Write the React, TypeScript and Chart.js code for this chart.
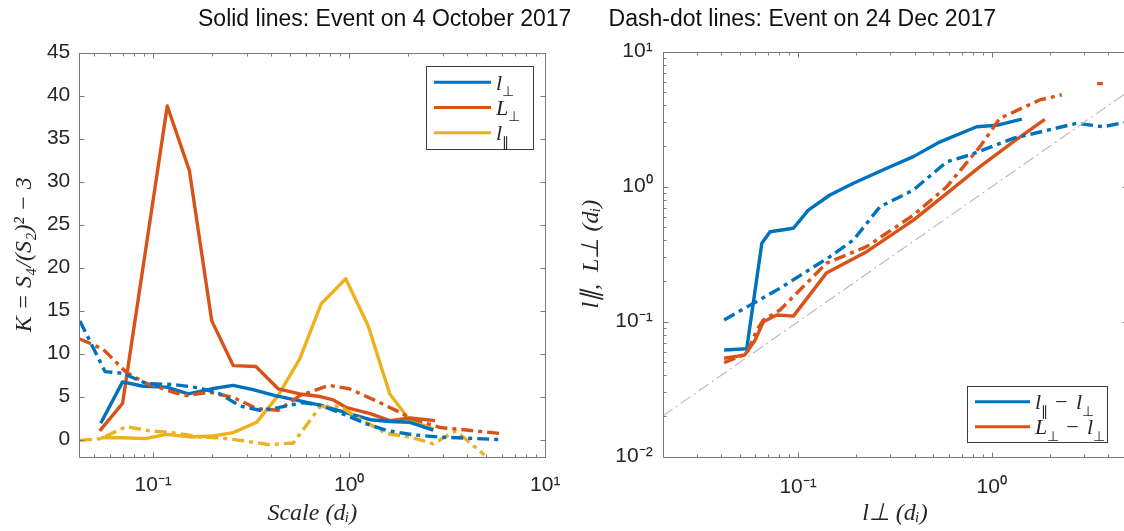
import React, { useEffect, useRef } from 'react';
import { Chart, registerables } from 'chart.js';

Chart.register(...registerables);

// ---------------- Left panel: K = S4/(S2)^2 - 3 versus scale ----------------
// Solid lines: event on 4 October 2017
const perpScaleOct = [0.054, 0.0698, 0.0889, 0.117, 0.151, 0.199, 0.256, 0.323, 0.419, 0.56, 0.71, 0.97, 1.28, 1.61, 2.04, 2.68];
const perpKOct = [1.9, 6.7, 6.2, 6.1, 5.3, 5.9, 6.3, 5.8, 5.1, 4.5, 4.0, 3.1, 2.3, 2.1, 2.0, 1.1];
const bigPerpScaleOct = [0.0534, 0.0698, 0.118, 0.153, 0.199, 0.256, 0.334, 0.434, 0.56, 0.71, 0.83, 0.97, 1.28, 1.61, 2.04, 2.74];
const bigPerpKOct = [1.0, 4.2, 38.8, 31.3, 13.8, 8.6, 8.5, 5.9, 5.3, 5.0, 4.6, 3.7, 3.0, 2.2, 2.5, 2.2];
const parScaleOct = [0.054, 0.07, 0.091, 0.117, 0.154, 0.199, 0.256, 0.337, 0.434, 0.56, 0.72, 0.96, 1.25, 1.61, 2.04, 2.7];
const parKOct = [0.2, 0.2, 0.1, 0.6, 0.3, 0.4, 0.8, 2.0, 5.1, 9.4, 15.8, 18.7, 13.2, 5.3, 2.2, 1.2];
// Dash-dot lines: event on 24 Dec 2017
const perpScaleDec = [0.0423, 0.0568, 0.07, 0.0925, 0.126, 0.173, 0.219, 0.277, 0.35, 0.434, 0.58, 0.71, 0.97, 1.23, 1.55, 2.11, 2.9, 3.97, 6.1];
const perpKDec = [13.8, 7.9, 7.7, 6.5, 6.4, 6.0, 5.3, 3.9, 3.4, 3.7, 4.3, 4.0, 2.8, 1.8, 1.05, 0.55, 0.28, 0.16, -0.03];
const bigPerpScaleDec = [0.0423, 0.0556, 0.073, 0.091, 0.126, 0.148, 0.195, 0.256, 0.337, 0.434, 0.56, 0.79, 1.0, 1.37, 1.8, 2.04, 2.9, 3.97, 6.1];
const bigPerpKDec = [11.7, 10.5, 7.8, 6.6, 5.5, 5.1, 5.5, 4.9, 3.6, 3.4, 5.1, 6.3, 5.9, 4.5, 3.2, 2.5, 1.4, 1.1, 0.66];
const parScaleDec = [0.0423, 0.054, 0.073, 0.096, 0.126, 0.173, 0.219, 0.3, 0.39, 0.518, 0.71, 0.89, 1.13, 1.55, 2.04, 2.68, 3.5, 4.9];
const parKDec = [-0.1, 0.1, 1.5, 1.0, 0.8, 0.3, 0.2, -0.2, -0.6, -0.4, 3.8, 3.9, 2.4, 0.7, 0.3, -0.5, 1.0, -1.8];

const leftYTickValues = [0, 5, 10, 15, 20, 25, 30, 35, 40, 45];
const leftXTickValues = [0.1, 1, 10];
const leftXTickLabels = ['10⁻¹', '10⁰', '10¹'];
const leftLegendLabels = ['l⊥', 'L⊥', 'l∥'];

// ---------------- Right panel: l_par, L_perp versus l_perp ----------------
const lPerpAOct = [0.0415, 0.0543, 0.065, 0.0717, 0.0946, 0.113, 0.146, 0.193, 0.287, 0.394, 0.541, 0.837, 1.06, 1.43];
const lParOct = [0.0617, 0.063, 0.381, 0.464, 0.492, 0.671, 0.868, 1.06, 1.37, 1.67, 2.15, 2.78, 2.85, 3.17];
const lPerpBOct = [0.0415, 0.053, 0.06, 0.0662, 0.0776, 0.0946, 0.14, 0.226, 0.394, 0.586, 0.87, 1.29, 1.88];
const bigLPerpOct = [0.0536, 0.0566, 0.073, 0.1, 0.112, 0.11, 0.229, 0.33, 0.566, 0.893, 1.41, 2.15, 3.15];
const lPerpADec = [0.0415, 0.0807, 0.146, 0.193, 0.265, 0.394, 0.586, 0.773, 1.29, 2.75, 3.77, 4.6, 5.0];
const lParDec = [0.103, 0.177, 0.303, 0.403, 0.711, 0.945, 1.53, 1.72, 2.28, 2.95, 2.78, 2.95, 3.0];
const lPerpBDec = [0.0415, 0.0543, 0.0612, 0.0662, 0.0807, 0.14, 0.226, 0.394, 0.586, 0.87, 1.1, 1.77, 2.3, 3.0, 3.5, 3.75];
const bigLPerpDec = [0.0497, 0.058, 0.0867, 0.103, 0.122, 0.271, 0.36, 0.616, 1.0, 1.98, 3.21, 4.39, 4.8, null, 5.8, 5.8];
const diagonalX = [0.02, 10];
const diagonalY = [0.02, 10];

const rightXTickValues = [0.1, 1];
const rightXTickLabels = ['10⁻¹', '10⁰'];
const rightYTickValues = [0.01, 0.1, 1, 10];
const rightYTickLabels = ['10⁻²', '10⁻¹', '10⁰', '10¹'];
const rightLegendLabels = ['l∥ − l⊥', 'L⊥ − l⊥'];

const titleLeft = 'Solid lines: Event on 4 October 2017';
const titleRight = 'Dash-dot lines: Event on 24 Dec 2017';

// ---------------- styles ----------------
const BLUE = '#0072BD';
const RED = '#D95319';
const YELLOW = '#EDB120';
const AXIS = '#7a7a7a';
const TEXT = '#262626';
const DASHDOT = [12, 5, 4, 5];
const LW = 3.4;
const SANS = '"Liberation Sans", Arial, Helvetica, sans-serif';
const SERIF = '"Liberation Serif", "Times New Roman", serif';
const SUBSCRIPT_CHARS = '⊥∥';

const pts = (xs: number[], ys: (number | null)[]) => xs.map((x, i) => ({ x, y: ys[i] }));

function logTicks(min: number, max: number) {
  const out: { v: number; major: boolean }[] = [];
  for (let e = Math.floor(Math.log10(min)); e <= Math.ceil(Math.log10(max)); e++) {
    for (let k = 1; k < 10; k++) {
      const v = k * Math.pow(10, e);
      if (v >= min * 0.9999 && v <= max * 1.0001) out.push({ v, major: k === 1 });
    }
  }
  return out;
}

const framePlugin = {
  id: 'frame',
  afterDraw(chart: any, _a: any, o: any) {
    const { ctx, chartArea: a, scales } = chart;
    const xs = scales.x;
    const ys = scales.y;
    ctx.save();
    ctx.setLineDash([]);
    ctx.strokeStyle = AXIS;
    ctx.lineWidth = 1;
    const L = Math.round(a.left) + 0.5, R = Math.round(a.right) + 0.5;
    const T = Math.round(a.top) + 0.5, B = Math.round(a.bottom) + 0.5;
    ctx.strokeRect(L, T, R - L, B - T);
    ctx.beginPath();
    (o.xTicks || []).forEach((t: any) => {
      const p = Math.round(xs.getPixelForValue(t.v)) + 0.5;
      const len = t.major ? 5 : 3;
      ctx.moveTo(p, B); ctx.lineTo(p, B - len);
      ctx.moveTo(p, T); ctx.lineTo(p, T + len);
    });
    (o.yTicks || []).forEach((t: any) => {
      const p = Math.round(ys.getPixelForValue(t.v)) + 0.5;
      const len = t.major ? 5 : 3;
      ctx.moveTo(L, p); ctx.lineTo(L + len, p);
      ctx.moveTo(R, p); ctx.lineTo(R - len, p);
    });
    ctx.stroke();
    ctx.restore();
  },
};

// draws a label with the perpendicular / parallel symbols set as small subscripts
function drawLegendText(ctx: CanvasRenderingContext2D, text: string, x: number, y: number, size: number) {
  let cx = x;
  for (const ch of Array.from(text)) {
    const sub = SUBSCRIPT_CHARS.includes(ch);
    const s = sub ? size * 0.62 : size;
    ctx.font = `${sub ? '' : 'italic '}${s}px ${SERIF}`;
    ctx.fillText(ch, cx, sub ? y + size * 0.3 : y);
    cx += ctx.measureText(ch).width + (ch === '−' ? 2 : 0);
  }
}

const boxLegendPlugin = {
  id: 'boxLegend',
  afterDraw(chart: any, _a: any, o: any) {
    if (!o || !o.items) return;
    const { ctx, chartArea: a } = chart;
    const x0 = a.right - o.right - o.width;
    const y0 = o.anchor === 'top' ? a.top + o.offsetY : a.bottom - o.offsetY - o.height;
    ctx.save();
    ctx.setLineDash([]);
    ctx.fillStyle = '#ffffff';
    ctx.fillRect(x0, y0, o.width, o.height);
    ctx.strokeStyle = '#3c3c3c';
    ctx.lineWidth = 1;
    ctx.strokeRect(Math.round(x0) + 0.5, Math.round(y0) + 0.5, Math.round(o.width), Math.round(o.height));
    for (let i = 0; i < o.items.length; i++) {
      const it = o.items[i];
      const cy = y0 + o.firstRow + i * o.rowGap;
      ctx.strokeStyle = it.color;
      ctx.lineWidth = 3;
      ctx.beginPath();
      ctx.moveTo(x0 + o.pad, cy);
      ctx.lineTo(x0 + o.pad + o.lineLen, cy);
      ctx.stroke();
      ctx.fillStyle = TEXT;
      ctx.textBaseline = 'alphabetic';
      ctx.textAlign = 'left';
      drawLegendText(ctx, it.text, x0 + o.pad + o.lineLen + o.gap, cy + o.fontSize * 0.33, o.fontSize);
    }
    ctx.restore();
  },
};

const line = (data: any[], color: string, dashed: boolean, width = LW) => ({
  data,
  borderColor: color,
  backgroundColor: color,
  borderWidth: width,
  borderDash: dashed ? DASHDOT : [],
  borderCapStyle: 'butt',
  borderJoinStyle: 'round',
  pointRadius: 0,
  tension: 0,
  fill: false,
  spanGaps: false,
});

const tickFont = { family: SANS, size: 21 };
const titleFont = { family: SERIF, size: 24, style: 'italic' as const };

function leftConfig(): any {
  const xMin = 0.042, xMax = 10;
  return {
    type: 'line',
    data: {
      datasets: [
        { label: 'l⊥ (24 Dec)', ...line(pts(perpScaleDec, perpKDec), BLUE, true) },
        { label: 'L⊥ (24 Dec)', ...line(pts(bigPerpScaleDec, bigPerpKDec), RED, true) },
        { label: 'l∥ (24 Dec)', ...line(pts(parScaleDec, parKDec), YELLOW, true) },
        { label: leftLegendLabels[0], ...line(pts(perpScaleOct, perpKOct), BLUE, false) },
        { label: leftLegendLabels[1], ...line(pts(bigPerpScaleOct, bigPerpKOct), RED, false) },
        { label: leftLegendLabels[2], ...line(pts(parScaleOct, parKOct), YELLOW, false) },
      ],
    },
    options: {
      animation: false,
      responsive: true,
      maintainAspectRatio: false,
      devicePixelRatio: 1,
      events: [],
      layout: { padding: { top: 52.7, right: 14.7, left: 0, bottom: 0 } },
      plugins: {
        legend: { display: false },
        tooltip: { enabled: false },
        frame: {
          xTicks: logTicks(xMin, xMax),
          yTicks: leftYTickValues.map((v) => ({ v, major: true })),
        },
        boxLegend: {
          items: [
            { text: leftLegendLabels[0], color: BLUE },
            { text: leftLegendLabels[1], color: RED },
            { text: leftLegendLabels[2], color: YELLOW },
          ],
          anchor: 'top', right: 12.6, offsetY: 13.3, width: 106.7, height: 83.3,
          pad: 8, lineLen: 57, gap: 5, firstRow: 16.3, rowGap: 25.2, fontSize: 22,
        },
      },
      scales: {
        x: {
          type: 'logarithmic',
          min: xMin,
          max: xMax,
          afterBuildTicks: (s: any) => { s.ticks = leftXTickValues.map((v) => ({ value: v })); },
          afterFit: (s: any) => { s.height = 74.3; s.paddingLeft = 0; s.paddingRight = 0; },
          grid: { display: false, drawTicks: false },
          border: { display: false },
          ticks: {
            autoSkip: false, maxRotation: 0, padding: 16, color: TEXT, font: tickFont,
            callback: (_v: any, i: number) => leftXTickLabels[i],
          },
          title: { display: true, text: 'Scale (dᵢ)', color: TEXT, font: titleFont, padding: { top: 0, bottom: 3 } },
        },
        y: {
          type: 'linear',
          min: -2,
          max: 45,
          afterBuildTicks: (s: any) => { s.ticks = leftYTickValues.map((v) => ({ value: v })); },
          afterFit: (s: any) => { s.width = 79.3; s.paddingTop = 0; s.paddingBottom = 0; },
          grid: { display: false, drawTicks: false },
          border: { display: false },
          ticks: { autoSkip: false, padding: 9, color: TEXT, font: tickFont, callback: (v: any) => String(v) },
          title: { display: true, text: 'K = S₄/(S₂)² − 3', color: TEXT, font: titleFont, padding: { top: 10.5, bottom: 0 } },
        },
      },
    },
    plugins: [framePlugin, boxLegendPlugin],
  };
}

function rightConfig(): any {
  const xMin = 0.02, xMax = 5, yMin = 0.01, yMax = 10;
  return {
    type: 'line',
    data: {
      datasets: [
        {
          label: 'l∥ = l⊥',
          ...line(pts(diagonalX, diagonalY), '#bdbdbd', false, 1.2),
          borderDash: [12, 4, 2, 4],
        },
        { label: 'l∥ − l⊥ (24 Dec)', ...line(pts(lPerpADec, lParDec), BLUE, true) },
        { label: 'L⊥ − l⊥ (24 Dec)', ...line(pts(lPerpBDec, bigLPerpDec), RED, true) },
        { label: rightLegendLabels[0], ...line(pts(lPerpAOct, lParOct), BLUE, false) },
        { label: rightLegendLabels[1], ...line(pts(lPerpBOct, bigLPerpOct), RED, false) },
      ],
    },
    options: {
      animation: false,
      responsive: true,
      maintainAspectRatio: false,
      devicePixelRatio: 1,
      events: [],
      layout: { padding: { top: 51.7, right: 32.9, left: 0, bottom: 0 } },
      plugins: {
        legend: { display: false },
        tooltip: { enabled: false },
        frame: {
          xTicks: logTicks(xMin, xMax),
          yTicks: logTicks(yMin, yMax),
        },
        boxLegend: {
          items: [
            { text: rightLegendLabels[0], color: BLUE },
            { text: rightLegendLabels[1], color: RED },
          ],
          anchor: 'bottom', right: 20.4, offsetY: 14.4, width: 140, height: 56.3,
          pad: 8.3, lineLen: 55, gap: 5, firstRow: 15.7, rowGap: 25, fontSize: 22,
        },
      },
      scales: {
        x: {
          type: 'logarithmic',
          min: xMin,
          max: xMax,
          afterBuildTicks: (s: any) => { s.ticks = rightXTickValues.map((v) => ({ value: v })); },
          afterFit: (s: any) => { s.height = 74.3; s.paddingLeft = 0; s.paddingRight = 0; },
          grid: { display: false, drawTicks: false },
          border: { display: false },
          ticks: {
            autoSkip: false, maxRotation: 0, padding: 18, color: TEXT, font: tickFont,
            callback: (_v: any, i: number) => rightXTickLabels[i],
          },
          title: { display: true, text: 'l⊥ (dᵢ)', color: TEXT, font: titleFont, padding: { top: 0, bottom: 3 } },
        },
        y: {
          type: 'logarithmic',
          min: yMin,
          max: yMax,
          afterBuildTicks: (s: any) => { s.ticks = rightYTickValues.map((v) => ({ value: v })); },
          afterFit: (s: any) => { s.width = 102.7; s.paddingTop = 0; s.paddingBottom = 0; },
          grid: { display: false, drawTicks: false },
          border: { display: false },
          ticks: {
            autoSkip: false, padding: 10, color: TEXT, font: tickFont,
            callback: (_v: any, i: number) => rightYTickLabels[i],
          },
          title: { display: true, text: 'l∥,  L⊥ (dᵢ)', color: TEXT, font: titleFont, padding: { top: 17.5, bottom: 0 } },
        },
      },
    },
    plugins: [framePlugin, boxLegendPlugin],
  };
}

function ChartBox({ make, style }: { make: () => any; style: React.CSSProperties }) {
  const ref = useRef<HTMLCanvasElement | null>(null);
  useEffect(() => {
    if (!ref.current) return;
    const chart = new Chart(ref.current, make());
    return () => chart.destroy();
  }, [make]);
  return (
    <div style={{ position: 'absolute', ...style }}>
      <canvas ref={ref} />
    </div>
  );
}

export default function App() {
  const titleStyle: React.CSSProperties = {
    position: 'absolute',
    top: 6.5,
    fontFamily: SANS,
    fontSize: 23,
    lineHeight: '23px',
    color: '#111',
    whiteSpace: 'nowrap',
  };
  return (
    <div
      style={{
        position: 'fixed', left: 0, top: 0, width: 1124, height: 531,
        overflow: 'hidden', background: '#ffffff',
      }}
    >
      <ChartBox make={leftConfig} style={{ left: 0, top: 0, width: 560, height: 531 }} />
      <ChartBox make={rightConfig} style={{ left: 560, top: 0, width: 600, height: 531 }} />
      <div style={{ ...titleStyle, left: 198 }}>{titleLeft}</div>
      <div style={{ ...titleStyle, left: 608.6 }}>{titleRight}</div>
    </div>
  );
}
